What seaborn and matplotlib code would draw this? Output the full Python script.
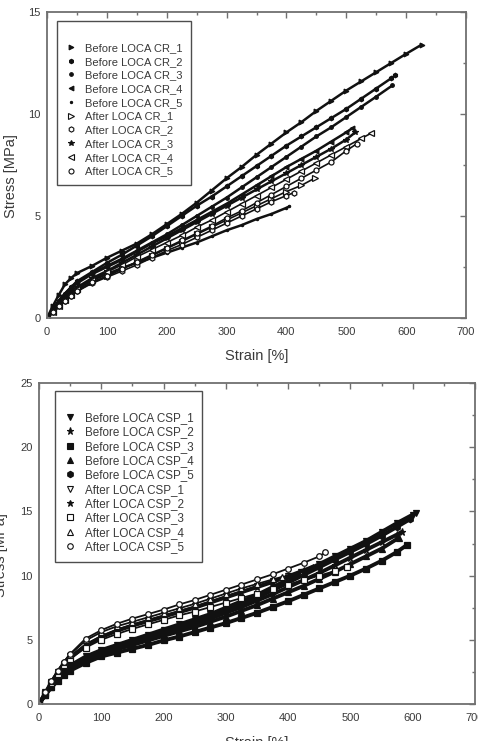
import matplotlib
matplotlib.use("Agg")
import matplotlib.pyplot as plt
import pandas as pd
import seaborn as sns
from matplotlib.lines import Line2D
from matplotlib.ticker import MultipleLocator

# ---------------- data ----------------
STRAIN_GRID = [0, 10, 20, 30, 40, 50, 75, 100, 125, 150, 175, 200, 225, 250, 275,
               300, 325, 350, 375, 400, 425, 450, 475, 500, 525, 550, 575, 600]

# --- top panel (CR) ---
CR_LABELS = ["Before LOCA CR_1", "Before LOCA CR_2", "Before LOCA CR_3",
             "Before LOCA CR_4", "Before LOCA CR_5", "After LOCA CR_1",
             "After LOCA CR_2", "After LOCA CR_3", "After LOCA CR_4", "After LOCA CR_5"]
CR_END_STRAIN = [626, 582, 577, 510, 405, 447, 413, 515, 541, 518]
before_cr_1 = [0, 0.6, 1.15, 1.65, 1.95, 2.2, 2.55, 2.95, 3.3, 3.65, 4.1, 4.6, 5.1, 5.65, 6.25,
               6.85, 7.4, 8.0, 8.55, 9.1, 9.6, 10.15, 10.65, 11.15, 11.6, 12.05, 12.5, 12.95, 13.4]
before_cr_2 = [0, 0.45, 0.85, 1.2, 1.5, 1.8, 2.25, 2.7, 3.1, 3.55, 4.0, 4.5, 5.0, 5.5, 5.95,
               6.45, 6.95, 7.45, 7.95, 8.45, 8.9, 9.35, 9.8, 10.25, 10.75, 11.25, 11.75, 11.9]
before_cr_3 = [0, 0.45, 0.85, 1.2, 1.5, 1.75, 2.2, 2.55, 2.9, 3.3, 3.7, 4.1, 4.55, 5.0, 5.45,
               5.9, 6.4, 6.9, 7.4, 7.9, 8.4, 8.9, 9.35, 9.85, 10.35, 10.85, 11.4]
before_cr_4 = [0, 0.4, 0.8, 1.15, 1.45, 1.7, 2.15, 2.5, 2.85, 3.25, 3.65, 4.0, 4.4, 4.8, 5.2,
               5.6, 6.05, 6.5, 6.95, 7.4, 7.8, 8.2, 8.65, 9.1, 9.3]
before_cr_5 = [0, 0.35, 0.7, 1.0, 1.25, 1.45, 1.85, 2.15, 2.45, 2.7, 2.95, 3.2, 3.45, 3.7, 4.0,
               4.3, 4.55, 4.85, 5.1, 5.4, 5.47]
after_cr_1 = [0, 0.3, 0.6, 0.9, 1.15, 1.35, 1.75, 2.05, 2.4, 2.75, 3.05, 3.4, 3.75, 4.1, 4.45,
              4.8, 5.15, 5.5, 5.85, 6.2, 6.5, 6.85]
after_cr_2 = [0, 0.3, 0.6, 0.85, 1.1, 1.3, 1.7, 2.0, 2.3, 2.6, 2.95, 3.3, 3.6, 3.95, 4.3,
              4.65, 5.0, 5.35, 5.7, 6.0, 6.15]
after_cr_3 = [0, 0.35, 0.7, 1.0, 1.3, 1.5, 1.95, 2.3, 2.7, 3.1, 3.5, 3.9, 4.3, 4.7, 5.1,
              5.5, 5.9, 6.3, 6.7, 7.1, 7.5, 7.9, 8.3, 8.75, 9.1]
after_cr_4 = [0, 0.3, 0.6, 0.9, 1.15, 1.4, 1.85, 2.25, 2.6, 3.0, 3.35, 3.7, 4.05, 4.45, 4.8,
              5.2, 5.6, 6.0, 6.4, 6.8, 7.2, 7.6, 8.0, 8.4, 8.8, 9.05]
after_cr_5 = [0, 0.3, 0.6, 0.85, 1.1, 1.3, 1.75, 2.05, 2.4, 2.75, 3.1, 3.45, 3.8, 4.15, 4.5,
              4.9, 5.25, 5.65, 6.05, 6.45, 6.85, 7.25, 7.65, 8.2, 8.55]
CR_STRESS = [before_cr_1, before_cr_2, before_cr_3, before_cr_4, before_cr_5,
             after_cr_1, after_cr_2, after_cr_3, after_cr_4, after_cr_5]

# --- bottom panel (CSP) ---
CSP_LABELS = ["Before LOCA CSP_1", "Before LOCA CSP_2", "Before LOCA CSP_3",
              "Before LOCA CSP_4", "Before LOCA CSP_5", "After LOCA CSP_1",
              "After LOCA CSP_2", "After LOCA CSP_3", "After LOCA CSP_4", "After LOCA CSP_5"]
CSP_END_STRAIN = [606, 582, 591, 578, 596, 420, 440, 494, 390, 459]
before_csp_1 = [0, 0.8, 1.5, 2.1, 2.6, 3.0, 3.7, 4.2, 4.6, 5.0, 5.4, 5.8, 6.2, 6.6, 7.0,
                7.5, 8.0, 8.5, 9.1, 9.7, 10.3, 10.9, 11.5, 12.1, 12.7, 13.4, 14.1, 14.75, 14.9]
before_csp_2 = [0, 0.75, 1.4, 1.95, 2.45, 2.85, 3.5, 4.0, 4.4, 4.75, 5.1, 5.5, 5.85, 6.25, 6.65,
                7.1, 7.55, 8.05, 8.55, 9.1, 9.65, 10.2, 10.8, 11.4, 12.0, 12.6, 13.2, 13.4]
before_csp_3 = [0, 0.7, 1.3, 1.8, 2.25, 2.6, 3.2, 3.7, 4.0, 4.3, 4.6, 4.95, 5.25, 5.6, 5.95,
                6.3, 6.7, 7.1, 7.55, 8.0, 8.5, 9.0, 9.5, 10.0, 10.55, 11.15, 11.85, 12.4]
before_csp_4 = [0, 0.7, 1.35, 1.9, 2.35, 2.75, 3.4, 3.85, 4.25, 4.6, 4.95, 5.3, 5.65, 6.0, 6.4,
                6.8, 7.25, 7.7, 8.2, 8.7, 9.2, 9.75, 10.3, 10.9, 11.5, 12.1, 12.95]
before_csp_5 = [0, 0.75, 1.45, 2.0, 2.5, 2.9, 3.6, 4.1, 4.5, 4.85, 5.25, 5.65, 6.05, 6.45, 6.85,
                7.3, 7.8, 8.3, 8.85, 9.45, 10.05, 10.65, 11.25, 11.85, 12.45, 13.1, 13.8, 14.4]
after_csp_1 = [0, 0.9, 1.75, 2.5, 3.15, 3.7, 4.65, 5.3, 5.8, 6.2, 6.55, 6.9, 7.25, 7.6, 8.0,
               8.4, 8.8, 9.2, 9.6, 9.95, 10.25]
after_csp_2 = [0, 0.85, 1.7, 2.45, 3.1, 3.6, 4.55, 5.2, 5.7, 6.1, 6.45, 6.8, 7.15, 7.5, 7.9,
               8.3, 8.7, 9.1, 9.5, 9.95, 10.4, 10.7]
after_csp_3 = [0, 0.85, 1.65, 2.35, 3.0, 3.5, 4.4, 5.0, 5.45, 5.85, 6.2, 6.55, 6.9, 7.2, 7.55,
               7.9, 8.25, 8.6, 8.95, 9.3, 9.65, 10.0, 10.35, 10.7]
after_csp_4 = [0, 0.9, 1.8, 2.6, 3.3, 3.85, 4.95, 5.6, 6.05, 6.4, 6.75, 7.1, 7.45, 7.8, 8.2,
               8.6, 9.0, 9.35, 9.7, 9.9]
after_csp_5 = [0, 0.9, 1.8, 2.6, 3.3, 3.9, 5.1, 5.75, 6.25, 6.65, 7.0, 7.35, 7.75, 8.1, 8.5,
               8.9, 9.3, 9.7, 10.1, 10.55, 11.0, 11.5, 11.8]
CSP_STRESS = [before_csp_1, before_csp_2, before_csp_3, before_csp_4, before_csp_5,
              after_csp_1, after_csp_2, after_csp_3, after_csp_4, after_csp_5]

CR_MARKERS = [">", "h", "o", "<", ".", ">", "h", "*", "<", "o"]
CR_FILLED = [True, True, True, True, True, False, False, True, False, False]
CR_MSIZE = [3.4, 3.2, 2.6, 3.4, 3.2, 3.8, 3.8, 4.4, 3.8, 3.6]
CSP_MARKERS = ["v", "*", "s", "^", "h", "v", "*", "s", "^", "o"]
CSP_FILLED = [True, True, True, True, True, False, True, False, False, False]
CSP_MSIZE = [4.6, 5.2, 4.0, 4.6, 4.6, 4.2, 5.0, 3.8, 4.2, 4.0]

# ---------------- style ----------------
sns.set_style("white")
plt.rcParams["font.family"] = ["Liberation Sans", "DejaVu Sans"]
INK = "#111111"
SPINE = "#707070"
TXT = "#3a3a3a"


def build_frame(labels, stresses, ends):
    rows = []
    for lab, ys, e in zip(labels, stresses, ends):
        xs = STRAIN_GRID[:len(ys) - 1] + [e]
        for x, y in zip(xs, ys):
            rows.append((lab, x, y))
    return pd.DataFrame(rows, columns=["series", "strain", "stress"])


def draw_panel(ax, labels, stresses, ends, markers, filled, msizes, ylim, legend_anchor,
               lw_filled, lw_open, leg_font, leg_spacing):
    df = build_frame(labels, stresses, ends)
    for lab, mk, fl, ms in zip(labels, markers, filled, msizes):
        sub = df[df["series"] == lab]
        sns.lineplot(data=sub, x="strain", y="stress", ax=ax, sort=False,
                     estimator=None, color=INK, linewidth=lw_filled if fl else lw_open,
                     marker=mk, markersize=ms, markerfacecolor=INK if fl else "white",
                     markeredgecolor=INK, markeredgewidth=0.9, legend=False)
    ax.set_xlim(0, 700)
    ax.set_ylim(*ylim)
    ax.xaxis.set_major_locator(MultipleLocator(100))
    ax.xaxis.set_minor_locator(MultipleLocator(50))
    ax.yaxis.set_major_locator(MultipleLocator(5))
    ax.yaxis.set_minor_locator(MultipleLocator(2.5))
    ax.tick_params(which="both", direction="in", top=True, right=True,
                   color=SPINE, width=1.0, labelcolor=TXT, labelsize=8)
    ax.tick_params(which="major", length=4)
    ax.tick_params(which="minor", length=2.5)
    ax.tick_params(axis="x", pad=6.5)
    ax.tick_params(axis="y", pad=4.5)
    for sp in ax.spines.values():
        sp.set_color(SPINE)
        sp.set_linewidth(1.3)
        sp.set_visible(True)
    ax.set_xlabel("Strain [%]", fontsize=10.5, color=TXT)
    ax.set_ylabel("Stress [MPa]", fontsize=10.5, color=TXT)
    handles = [Line2D([], [], linestyle="none", marker=mk, color=INK,
                      markerfacecolor=INK if fl else "white", markeredgecolor=INK,
                      markeredgewidth=0.8, markersize=ms * 1.0)
               for mk, fl, ms in zip(markers, filled, msizes)]
    leg = ax.legend(handles, labels, loc="upper left", bbox_to_anchor=legend_anchor,
                    borderaxespad=0, frameon=True, fancybox=False, fontsize=leg_font,
                    title=" ", title_fontsize=7, handlelength=1.0, handletextpad=0.8,
                    labelspacing=leg_spacing, borderpad=0.75)
    frame = leg.get_frame()
    frame.set_edgecolor("#222222")
    frame.set_linewidth(1.0)
    for t in leg.get_texts():
        t.set_color(TXT)
    return ax


fig = plt.figure(figsize=(4.78, 7.41), dpi=100)
ax1 = fig.add_axes([47 / 478, 1 - 318 / 741, 419 / 478, 306 / 741])
ax2 = fig.add_axes([39 / 478, 1 - 704 / 741, 436 / 478, 321 / 741])

draw_panel(ax1, CR_LABELS, CR_STRESS, CR_END_STRAIN, CR_MARKERS, CR_FILLED, CR_MSIZE,
           (0, 15), (0.024, 0.971), 1.8, 1.2, 8.0, 0.335)
draw_panel(ax2, CSP_LABELS, CSP_STRESS, CSP_END_STRAIN, CSP_MARKERS, CSP_FILLED, CSP_MSIZE,
           (0, 25), (0.037, 0.975), 2.8, 1.3, 8.4, 0.2)

ax1.yaxis.set_label_coords(-0.069, 0.464)
ax1.xaxis.set_label_coords(0.5, -0.100)
ax2.yaxis.set_label_coords(-0.071, 0.464)
ax2.xaxis.set_label_coords(0.5, -0.100)

fig.savefig("out.png", dpi=100)
